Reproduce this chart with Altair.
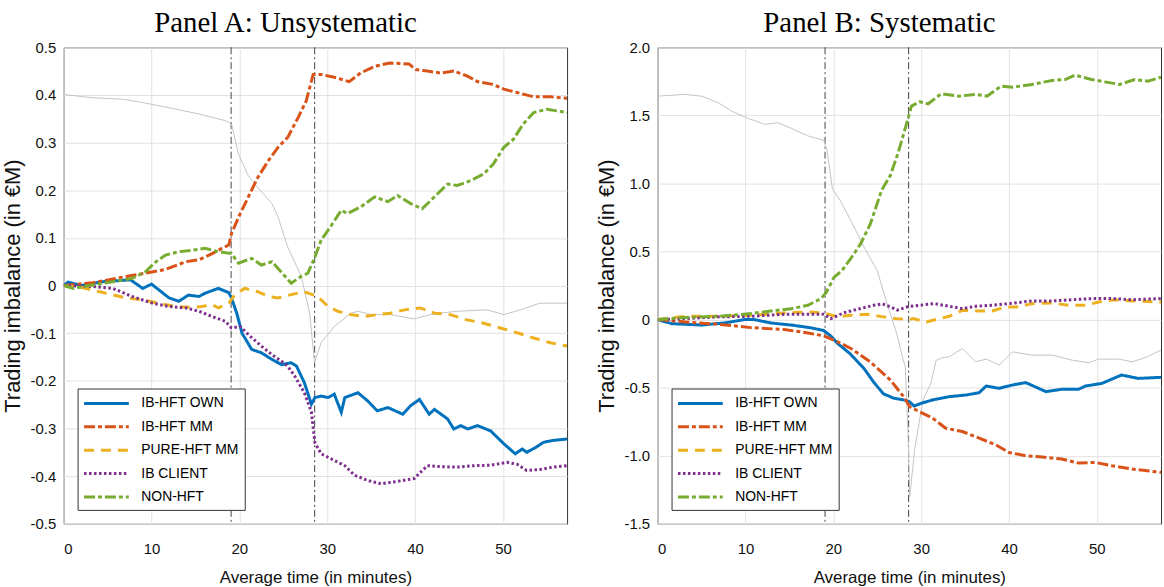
import altair as alt
import pandas as pd

SERIES = ["IB-HFT OWN", "IB-HFT MM", "PURE-HFT MM", "IB CLIENT", "NON-HFT"]
COLORS = ["#0072BD", "#D95319", "#EDB120", "#7E2F8E", "#77AC30"]
DASHES = [[1, 0], [11, 3, 4, 3], [10, 7], [2.5, 2.5], [11, 3, 4, 3]]
EVENTS = [19.06, 28.57]
XMAX = 57.3
X_TICKS = [0, 10, 20, 30, 40, 50]
A_Y_TICKS = [-0.5, -0.4, -0.3, -0.2, -0.1, 0, 0.1, 0.2, 0.3, 0.4, 0.5]
B_Y_TICKS = [-1.5, -1.0, -0.5, 0, 0.5, 1.0, 1.5, 2.0]

# ---------------- Panel A: Unsystematic ----------------
A_OWN_T = [0, 0.5, 2, 4.4, 7.6, 9, 10, 12, 13.1, 14.2, 15.4, 16.1, 17.6, 18.8, 19.1, 19.7, 20.3, 21.4, 22.5, 23.7, 24.8, 25.9, 26.5, 27.4, 28.2, 28.6, 29.3, 30.1, 30.8, 31.6, 32, 33.5, 34.6, 35.7, 36.9, 38.6, 39.5, 40.5, 41.6, 42.2, 43.7, 44.4, 45.2, 46, 47.1, 48.6, 50.1, 51.4, 52.2, 52.7, 53.8, 54.6, 55.7, 57.3]
A_OWN_V = [0, 0.007, 0, 0.008, 0.012, -0.006, 0.003, -0.026, -0.033, -0.02, -0.023, -0.016, -0.006, -0.015, -0.026, -0.058, -0.1, -0.134, -0.141, -0.155, -0.166, -0.162, -0.169, -0.204, -0.249, -0.235, -0.232, -0.235, -0.228, -0.266, -0.235, -0.225, -0.242, -0.263, -0.256, -0.27, -0.252, -0.239, -0.27, -0.26, -0.28, -0.301, -0.294, -0.301, -0.294, -0.305, -0.332, -0.353, -0.343, -0.35, -0.339, -0.329, -0.325, -0.322]

A_MM_T = [0, 3.3, 7.1, 9.3, 11.6, 13.9, 15.4, 16.9, 18, 18.8, 19.1, 20.1, 21.2, 22.1, 23.3, 24.4, 25.5, 26.7, 27.6, 28.4, 28.6, 29.3, 30.8, 32.5, 33.8, 35.4, 37.1, 39.3, 40.1, 41.4, 42.9, 44.4, 45.9, 47.1, 48.9, 50.1, 51.6, 53.5, 55.4, 57.3]
A_MM_V = [0, 0.006, 0.019, 0.026, 0.034, 0.05, 0.054, 0.067, 0.078, 0.085, 0.109, 0.151, 0.193, 0.227, 0.262, 0.29, 0.311, 0.353, 0.387, 0.443, 0.443, 0.443, 0.437, 0.428, 0.446, 0.46, 0.467, 0.465, 0.453, 0.45, 0.446, 0.45, 0.44, 0.428, 0.422, 0.412, 0.405, 0.396, 0.396, 0.393]

A_PURE_T = [0, 1.8, 4.1, 7.1, 9, 10.8, 12.7, 14.6, 15.7, 16.9, 17.6, 18.8, 19.5, 20.6, 22.1, 23.3, 24.4, 25.9, 27.4, 28.9, 30.1, 31.2, 32.7, 34.2, 35.7, 37.2, 38.8, 40.6, 42.2, 44, 45.9, 47.8, 49.7, 51.6, 53.5, 55.4, 57.3]
A_PURE_V = [0, -0.003, -0.013, -0.026, -0.03, -0.037, -0.044, -0.046, -0.044, -0.04, -0.047, -0.037, -0.019, -0.006, -0.013, -0.023, -0.026, -0.019, -0.013, -0.023, -0.044, -0.054, -0.061, -0.065, -0.061, -0.058, -0.051, -0.047, -0.058, -0.061, -0.072, -0.079, -0.089, -0.099, -0.11, -0.12, -0.127]

A_CLIENT_T = [0, 3.3, 5.6, 7.8, 10.1, 12, 13.9, 15.4, 16.9, 18.4, 19.1, 20.1, 21.2, 22.5, 23.7, 24.8, 25.5, 26.3, 27.4, 28.2, 28.6, 29.3, 30.8, 32, 33.1, 34.6, 36.1, 38, 39.9, 40.6, 41.4, 42.9, 44.8, 46.7, 48.6, 50.5, 51.6, 52.7, 54.2, 55.7, 57.3]
A_CLIENT_V = [0, -0.002, -0.006, -0.023, -0.037, -0.044, -0.047, -0.054, -0.065, -0.075, -0.089, -0.086, -0.106, -0.127, -0.145, -0.159, -0.169, -0.19, -0.225, -0.266, -0.33, -0.353, -0.367, -0.378, -0.398, -0.409, -0.416, -0.411, -0.405, -0.392, -0.378, -0.38, -0.381, -0.378, -0.377, -0.371, -0.375, -0.388, -0.386, -0.381, -0.378]

A_NON_T = [0, 1.1, 3.3, 5.6, 7.8, 9.3, 10.5, 11.6, 13.1, 14.6, 16.1, 17.6, 19.1, 19.9, 21.4, 22.5, 23.7, 24.4, 25.9, 27, 27.8, 28.6, 29.3, 30.5, 31.6, 32.3, 33.8, 35.4, 36.9, 38, 39.5, 40.8, 42.2, 43.7, 44.8, 46.3, 47.8, 48.9, 50.1, 51.2, 52.3, 53.5, 55, 57.3]
A_NON_V = [0, -0.006, 0.001, 0.008, 0.015, 0.029, 0.05, 0.064, 0.071, 0.074, 0.078, 0.071, 0.067, 0.047, 0.057, 0.043, 0.05, 0.036, 0.005, 0.019, 0.026, 0.06, 0.095, 0.127, 0.158, 0.151, 0.165, 0.186, 0.176, 0.189, 0.172, 0.161, 0.186, 0.213, 0.21, 0.22, 0.234, 0.255, 0.29, 0.307, 0.339, 0.363, 0.37, 0.363]

A_GRAY_T = [0, 3.3, 6.7, 9, 12, 15.4, 18.4, 19.1, 19.9, 21, 21.9, 23.7, 24.4, 25.5, 27.05, 28, 28.55, 29.3, 30.8, 32.7, 33.5, 35, 37.2, 39.9, 42.2, 44.8, 48.2, 50.1, 52, 54.2, 57.3]
A_GRAY_V = [0.401, 0.394, 0.391, 0.384, 0.373, 0.36, 0.346, 0.339, 0.276, 0.231, 0.21, 0.172, 0.144, 0.081, 0.019, -0.058, -0.162, -0.12, -0.086, -0.058, -0.054, -0.061, -0.061, -0.07, -0.059, -0.054, -0.051, -0.061, -0.051, -0.037, -0.037]

# ---------------- Panel B: Systematic ----------------
B_OWN_T = [0, 1.6, 5, 7.6, 9.9, 11, 12.9, 15.2, 17.4, 18.9, 19.7, 20.5, 21.9, 23.5, 24.6, 25.7, 26.9, 28, 28.6, 29.2, 30, 31.3, 33.2, 35.1, 36.6, 37.4, 38.9, 40.4, 41.9, 44.2, 46, 47.9, 48.7, 50.6, 52.8, 54.7, 57.3]
B_OWN_V = [0, -0.03, -0.04, -0.025, 0, 0, -0.025, -0.04, -0.06, -0.08, -0.12, -0.176, -0.25, -0.36, -0.46, -0.545, -0.578, -0.59, -0.6, -0.635, -0.615, -0.59, -0.566, -0.554, -0.537, -0.488, -0.505, -0.48, -0.463, -0.529, -0.512, -0.512, -0.488, -0.468, -0.407, -0.432, -0.424]

B_MM_T = [0, 3.1, 6.9, 10.6, 14.4, 17.1, 18.9, 20.5, 22, 24.2, 26.5, 28, 28.7, 29.8, 31.3, 32.8, 34.7, 36.6, 38.5, 40, 41.9, 43.8, 46, 47.9, 49.8, 51.7, 54, 57.3]
B_MM_V = [0, -0.017, -0.034, -0.059, -0.073, -0.098, -0.12, -0.163, -0.212, -0.31, -0.444, -0.566, -0.64, -0.676, -0.724, -0.798, -0.822, -0.871, -0.92, -0.976, -1.0, -1.01, -1.024, -1.054, -1.049, -1.073, -1.098, -1.122]

B_PURE_T = [0, 3.1, 6.9, 10.6, 14.4, 17.1, 18.9, 20.5, 22, 23.8, 25.7, 27.2, 28.6, 29.1, 30.6, 32.1, 33.2, 34.7, 36.6, 38.1, 39.6, 41.1, 42.6, 44.9, 46.8, 48.7, 50.2, 52.1, 54, 57.3]
B_PURE_V = [0, 0.024, 0.024, 0.032, 0.049, 0.056, 0.049, 0.02, 0.032, 0.039, 0.02, 0.007, 0, 0.007, -0.017, 0.007, 0.024, 0.068, 0.063, 0.063, 0.093, 0.093, 0.117, 0.122, 0.105, 0.105, 0.129, 0.146, 0.137, 0.129]

B_CLIENT_T = [0, 3.1, 6.9, 10.6, 14.4, 17.1, 18.9, 19.7, 21.2, 22.7, 24.6, 25.6, 26.5, 27.3, 28.5, 29.8, 31.5, 33.6, 34.7, 36.2, 38.1, 40, 42.6, 44.9, 47.2, 49.4, 51.7, 54, 57.3]
B_CLIENT_V = [0, 0.007, 0.02, 0.024, 0.039, 0.039, 0.04, 0.007, 0.05, 0.075, 0.105, 0.115, 0.093, 0.07, 0.095, 0.105, 0.117, 0.093, 0.08, 0.098, 0.105, 0.117, 0.137, 0.137, 0.146, 0.154, 0.154, 0.146, 0.154]

B_NON_T = [0, 3.1, 6.9, 10.6, 12.9, 15.2, 17.1, 18.6, 19.2, 20.1, 21, 22, 23.1, 24.2, 25.5, 26.5, 27.4, 28.3, 28.9, 29.8, 30.8, 32.3, 34.3, 36.2, 37.5, 39.1, 40.4, 42.6, 44.9, 46.4, 47.5, 49.4, 50.9, 52.6, 54.3, 55.8, 57.3]
B_NON_V = [0, 0.015, 0.024, 0.044, 0.063, 0.08, 0.105, 0.154, 0.2, 0.312, 0.361, 0.45, 0.556, 0.7, 0.95, 1.06, 1.23, 1.43, 1.568, 1.6, 1.585, 1.659, 1.641, 1.654, 1.641, 1.715, 1.707, 1.727, 1.756, 1.763, 1.795, 1.763, 1.746, 1.727, 1.763, 1.751, 1.78]

B_GRAY_T = [0, 3.1, 5, 6.9, 8.4, 10.3, 12.2, 13.7, 15.2, 17.1, 18.9, 19.3, 19.9, 20.8, 22, 23.5, 25, 26, 27.2, 27.9, 28.2, 28.5, 28.7, 29.25, 30.2, 31.1, 31.7, 32.4, 33.2, 34.7, 36.2, 37.4, 38.9, 40.4, 42.6, 44.9, 47.2, 49.1, 50.2, 52.5, 54, 55.5, 57.3]
B_GRAY_V = [1.641, 1.654, 1.641, 1.593, 1.532, 1.478, 1.434, 1.446, 1.405, 1.349, 1.317, 1.239, 0.959, 0.873, 0.727, 0.532, 0.36, 0.14, -0.1, -0.28, -0.35, -0.83, -1.3, -0.957, -0.59, -0.47, -0.3, -0.28, -0.273, -0.212, -0.31, -0.29, -0.334, -0.237, -0.261, -0.261, -0.298, -0.317, -0.29, -0.29, -0.31, -0.28, -0.224]

SANS = "Liberation Sans, Arial, sans-serif"
SERIF = "Liberation Serif, DejaVu Serif, serif"


def series_frame(pairs):
    rows = []
    for name, ts, vs in pairs:
        for t, v in zip(ts, vs):
            rows.append({"series": name, "t": t, "v": v})
    return pd.DataFrame(rows)


def panel(pairs, gray_t, gray_v, title, ydom, yticks):
    df = series_frame(pairs)
    gray = pd.DataFrame({"t": gray_t, "v": gray_v})
    ev = pd.DataFrame({"t": EVENTS})
    xsc = alt.Scale(domain=[0, XMAX], nice=False, zero=False)
    ysc = alt.Scale(domain=ydom, nice=False, zero=False)
    xax = alt.Axis(values=X_TICKS, title="Average time (in minutes)", format="d",
                   labelPadding=18, titlePadding=10, minExtent=36, maxExtent=36)
    yax = alt.Axis(values=yticks, title="Trading imbalance (in €M)",
                   labelExpr="datum.value == 0 ? '0' : (datum.value < 0 ? '-' + format(-datum.value, '.1f') : format(datum.value, '.1f'))",
                   labelPadding=8, titlePadding=0, minExtent=39, maxExtent=39)
    leg = alt.Legend(title=None, orient="none", legendX=14, legendY=343,
                     symbolType="M-3,0H3", symbolSize=225, symbolStrokeWidth=3,
                     symbolOffset=14, labelOffset=26, labelFont=SANS, labelFontSize=14,
                     labelColor="black", padding=6, rowPadding=7.5,
                     strokeColor="#333333", fillColor="white")
    rules = alt.Chart(ev).mark_rule(color="#444444", strokeWidth=1, strokeDash=[7, 3, 2, 3]).encode(
        x=alt.X("t:Q", scale=xsc, axis=xax))
    gline = alt.Chart(gray).mark_line(color="#c4c4c4", strokeWidth=1).encode(
        x=alt.X("t:Q", scale=xsc, axis=xax), y=alt.Y("v:Q", scale=ysc, axis=yax))
    lines = alt.Chart(df).mark_line(strokeWidth=3, clip=True).encode(
        x=alt.X("t:Q", scale=xsc, axis=xax),
        y=alt.Y("v:Q", scale=ysc, axis=yax),
        color=alt.Color("series:N", scale=alt.Scale(domain=SERIES, range=COLORS), legend=leg),
        strokeDash=alt.StrokeDash("series:N", scale=alt.Scale(domain=SERIES, range=DASHES), legend=leg),
    )
    return alt.layer(rules, gline, lines).properties(
        width=506, height=479,
        title=alt.TitleParams(title, font=SERIF, fontSize=29, fontWeight="normal",
                              anchor="middle", frame="bounds", offset=2, color="black"))


pA = panel([("IB-HFT OWN", A_OWN_T, A_OWN_V), ("IB-HFT MM", A_MM_T, A_MM_V),
            ("PURE-HFT MM", A_PURE_T, A_PURE_V), ("IB CLIENT", A_CLIENT_T, A_CLIENT_V),
            ("NON-HFT", A_NON_T, A_NON_V)], A_GRAY_T, A_GRAY_V,
           "Panel A: Unsystematic", [-0.5, 0.5], A_Y_TICKS)
pB = panel([("IB-HFT OWN", B_OWN_T, B_OWN_V), ("IB-HFT MM", B_MM_T, B_MM_V),
            ("PURE-HFT MM", B_PURE_T, B_PURE_V), ("IB CLIENT", B_CLIENT_T, B_CLIENT_V),
            ("NON-HFT", B_NON_T, B_NON_V)], B_GRAY_T, B_GRAY_V,
           "Panel B: Systematic", [-1.5, 2.0], B_Y_TICKS)

chart = alt.hconcat(pA, pB, spacing=25).resolve_scale(
    x="independent", y="independent", color="independent", strokeDash="independent"
).properties(
    padding={"left": 1, "top": 7, "right": 0, "bottom": 0}
).configure(background="white").configure_view(
    stroke="#333333", strokeWidth=1
).configure_axis(
    gridColor="#e2e2e2", gridWidth=1, domain=False, ticks=False,
    labelFont=SANS, labelFontSize=15, labelColor="#111111",
    titleFont=SANS, titleFontSize=17, titleFontWeight="normal", titleColor="#111111"
).configure_axisY(titleFontSize=22)

chart.save("out.html", embed_options={"renderer": "svg", "actions": False})
